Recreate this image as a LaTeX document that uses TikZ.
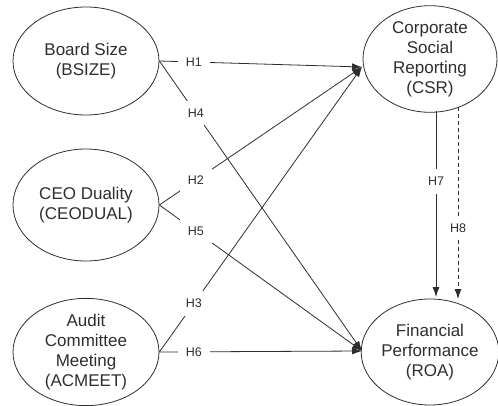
\documentclass[tikz,border=0pt]{standalone}
\usepackage{fontspec}
\setmainfont{Liberation Sans}
\usetikzlibrary{shapes.geometric,arrows.meta}
\definecolor{ink}{rgb}{0.18,0.18,0.18}
\begin{document}
\begin{tikzpicture}[x=1pt,y=-1pt,
  var/.style={draw=ink,line width=0.8pt,ellipse,inner sep=0pt,align=center,
    text=ink,font=\fontsize{17}{20}\selectfont},
  arr/.style={draw=ink,line width=0.8pt,-{Latex[length=10pt,width=7pt]}},
  lab/.style={fill=white,inner xsep=8pt,inner ysep=8pt,text=ink,font=\fontsize{12.5}{14}\selectfont}]
\useasboundingbox (0,0) rectangle (498,406);
\node[var,minimum width=146pt,minimum height=108pt] (bs) at (86,61) {Board Size\\(BSIZE)};
\node[var,minimum width=146pt,minimum height=112pt] (ceo) at (86,205) {CEO Duality\\(CEODUAL)};
\node[var,minimum width=146pt,minimum height=106pt] (ac) at (86,352) {Audit\\Committee\\Meeting\\(ACMEET)};
\node[var,minimum width=134pt,minimum height=104pt] (csr) at (430,59) {Corporate\\Social\\Reporting\\(CSR)};
\node[var,minimum width=134pt,minimum height=106pt] (roa) at (430,352) {Financial\\Performance\\(ROA)};
\coordinate (cin) at (362,67);
\coordinate (rin) at (362,351);
\coordinate (h7a) at (436,111);
\coordinate (h7b) at (436,297);
\coordinate (h8a) at (458,107);
\coordinate (h8b) at (458,299);
\draw[arr] (bs.east) -- node[lab,pos=0.17] {H1} (cin);
\draw[arr] (bs.east) -- node[lab,pos=0.18] {H4} (rin);
\draw[arr] (ceo.east) -- node[lab,pos=0.18] {H2} (cin);
\draw[arr] (ceo.east) -- node[lab,pos=0.18] {H5} (rin);
\draw[arr] (ac.east) -- node[lab,pos=0.17] {H3} (cin);
\draw[arr] (ac.east) -- node[lab,pos=0.17] {H6} (rin);
\draw[arr] (h7a) -- node[lab,pos=0.38] {H7} (h7b);
\draw[arr,dash pattern=on 4pt off 3pt] (h8a) -- node[lab,pos=0.63] {H8} (h8b);
\end{tikzpicture}
\end{document}
